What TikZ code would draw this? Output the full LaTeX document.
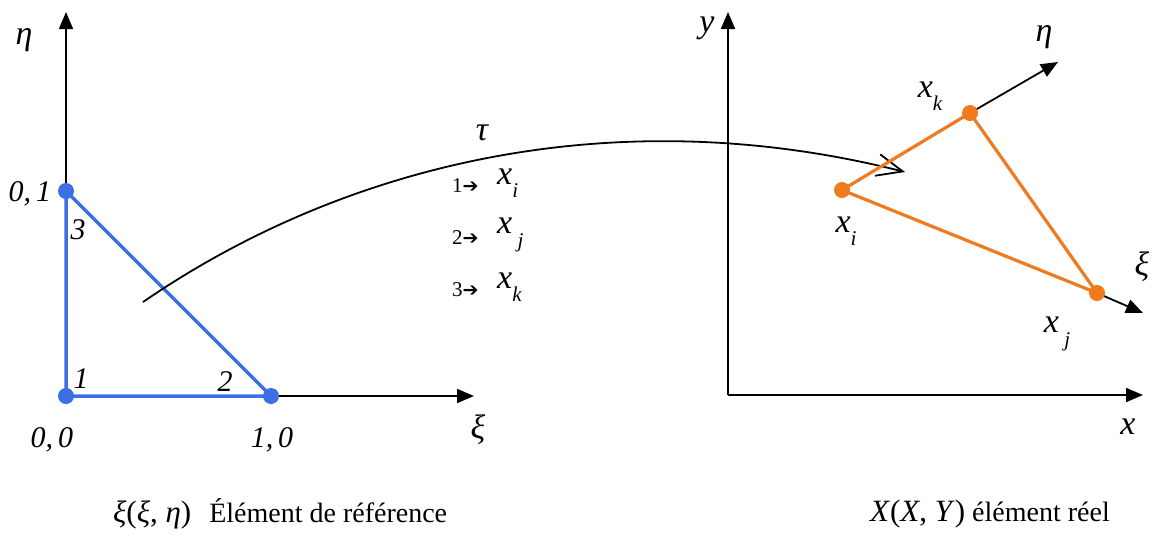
\documentclass[tikz,border=0pt]{standalone}
\usepackage{fontspec}
\setmainfont{Liberation Serif}
\newfontfamily\arrowfont{DejaVu Sans}
\usetikzlibrary{arrows.meta}
\definecolor{refblue}{HTML}{3C6EE6}
\definecolor{reforange}{HTML}{F07A1E}
\newcommand{\sub}[2]{{\itshape #1}\raisebox{-0.4em}{\fontsize{21}{22}\selectfont\itshape #2}}
\newcommand{\maparrow}{{\arrowfont\fontsize{19}{20}\selectfont ➔}}
\begin{document}
\begin{tikzpicture}[x=1pt,y=-1pt,
  axis/.style={line width=1.8pt,-{Triangle[length=17pt,width=14pt]}},
  lbl/.style={font=\fontsize{34}{36}\selectfont\itshape, inner sep=0pt},
  num/.style={font=\fontsize{30}{32}\selectfont\itshape, inner sep=0pt},
  small/.style={font=\fontsize{21}{22}\selectfont, inner sep=0pt},
  captxt/.style={font=\fontsize{28}{30}\selectfont, inner sep=0pt, anchor=west},
  bdot/.style={circle, fill=refblue, minimum size=16pt, inner sep=0pt},
  odot/.style={circle, fill=reforange, minimum size=16pt, inner sep=0pt},
  bline/.style={refblue, line width=3.5pt},
  oline/.style={reforange, line width=3.2pt}]
\useasboundingbox (0,0) rectangle (1153,542);
% left axes
\coordinate (o1) at (66,396);
\coordinate (etatip) at (66,12);
\coordinate (xitip) at (474,396);
\draw[axis] (o1) -- (etatip);
\draw[axis] (o1) -- (xitip);
\node[lbl] (eta1) at (24,40) {η};
\node[lbl] (xi1) at (478,430) {ξ};
% blue triangle
\coordinate (c1) at (66,396);
\coordinate (c2) at (271,396);
\coordinate (c3) at (66,191);
\draw[bline] (c1) -- (c2) -- (c3) -- cycle;
\node[bdot] (p1) at (c1) {};
\node[bdot] (p2) at (c2) {};
\node[bdot] (p3) at (c3) {};
\node[num] (l01) at (30,194) {0,\,1};
\node[num] (l3) at (78,230) {3};
\node[num] (l1) at (81,379) {1};
\node[num] (l2) at (225,382) {2};
\node[num] (l00) at (52,440) {0,\,0};
\node[num] (l10) at (272,440) {1,\,0};
% mapping curve
\coordinate (cstart) at (143,302);
\coordinate (cend) at (905,172);
\draw[line width=1.8pt, -{Straight Barb[length=26pt,width=22pt,line width=1.8pt]}]
  (cstart) .. controls (350,160) and (620,100) .. (cend);
\node[lbl] (tau) at (482,133) {τ};
\node[small, anchor=west] (m1a) at (452,186) {1\maparrow};
\node[lbl, anchor=west] (m1b) at (497,183) {\sub{x}{i}};
\node[small, anchor=west] (m2a) at (452,238) {2\maparrow};
\node[lbl, anchor=west] (m2b) at (497,235) {\sub{x}{ j}};
\node[small, anchor=west] (m3a) at (452,290) {3\maparrow};
\node[lbl, anchor=west] (m3b) at (497,287) {\sub{x}{k}};
% right axes
\coordinate (o2) at (728,395);
\coordinate (ytip) at (728,12);
\coordinate (xtip) at (1143,395);
\draw[axis] (o2) -- (ytip);
\draw[axis] (o2) -- (xtip);
\node[lbl] (ylab) at (707,28) {y};
\node[lbl] (xlab) at (1128,427) {x};
% orange triangle
\coordinate (qi) at (842,190);
\coordinate (qk) at (970,113);
\coordinate (qj) at (1097,293);
\coordinate (etatip2) at (1058,62);
\coordinate (xitip2) at (1143,313);
\draw[axis] (qk) -- (etatip2);
\draw[axis] (qj) -- (xitip2);
\draw[oline] (qi) -- (qk) -- (qj) -- cycle;
\node[odot] (ni) at (qi) {};
\node[odot] (nk) at (qk) {};
\node[odot] (nj) at (qj) {};
\node[lbl] (eta2) at (1044,37) {η};
\node[lbl] (xi2) at (1142,267) {ξ};
\node[lbl] (lk) at (930,96) {\sub{x}{k}};
\node[lbl] (li) at (846,231) {\sub{x}{i}};
\node[lbl] (lj) at (1057,334) {\sub{x}{ j}};
% captions
\node[captxt] (cap1) at (113,514) {{\fontsize{31}{32}\selectfont\textit{ξ}(\textit{ξ}, \textit{η})}\hspace{18pt}Élément de référence};
\node[captxt] (cap2) at (870,514) {{\fontsize{31}{32}\selectfont\textit{X}(\textit{X}, \textit{Y})} élément réel};
\end{tikzpicture}
\end{document}
